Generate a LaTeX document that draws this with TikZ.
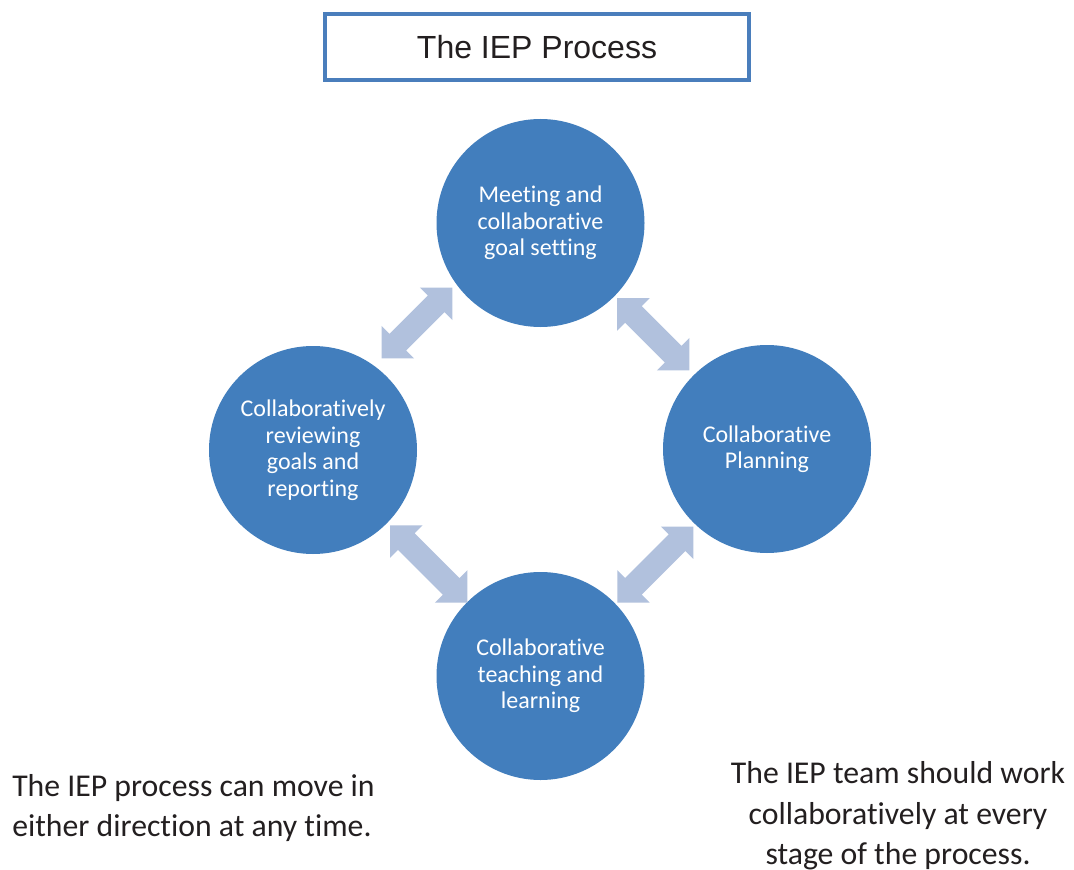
\documentclass[tikz,border=0pt]{standalone}
\usepackage{fontspec}
\setmainfont[Ligatures={NoCommon}]{Carlito}
\newfontfamily\arialfont{Liberation Sans}
\usetikzlibrary{shapes.arrows,calc}
\definecolor{circblue}{HTML}{427EBD}
\definecolor{arrowblue}{HTML}{B1C1DD}
\definecolor{boxblue}{HTML}{4A7EBC}
\definecolor{txt}{HTML}{231F20}
\begin{document}
\begin{tikzpicture}[x=0.75pt,y=-0.75pt,
  stage/.style={circle, fill=circblue, draw=none, minimum size=156pt, inner sep=0pt,
    text=white, align=center, font=\fontsize{18}{19.9}\selectfont},
  linkarrow/.style={double arrow, fill=arrowblue, draw=none, double arrow tip angle=90,
    double arrow head extend=8.4pt, inner xsep=0pt, inner ysep=8.6pt},
  note/.style={text=txt, font=\fontsize{23.8}{30.5}\selectfont, inner sep=0pt}]
\useasboundingbox (0,0) rectangle (1074,870);
\fill[white] (0,0) rectangle (1074,870);
% title
\node[draw=boxblue, line width=3pt, minimum width=318pt, minimum height=49.5pt,
  inner sep=0pt, text=txt, font=\arialfont\fontsize{24}{28}\selectfont] (title) at (537,47) {The IEP Process};
% stages
\node[stage] (top) at (540.5,223) {Meeting and\\collaborative\\goal setting};
\node[stage] (right) at (767,449) {Collaborative\\Planning};
\node[stage] (bottom) at (540.5,676) {Collaborative\\teaching and\\learning};
\node[stage] (left) at (313,450) {Collaboratively\\reviewing\\goals and\\reporting};
% double arrows
\node[linkarrow, minimum height=75pt, rotate=45] (a1) at ($(left)!0.5!(top)+(-9.75,-13.5)$) {};
\node[linkarrow, minimum height=76.5pt, rotate=-45] (a2) at ($(top)!0.5!(right)+(-0.5,-1.7)$) {};
\node[linkarrow, minimum height=82pt, rotate=-45] (a3) at ($(left)!0.5!(bottom)+(2,1)$) {};
\node[linkarrow, minimum height=80.6pt, rotate=45] (a4) at ($(bottom)!0.5!(right)+(1.5,2)$) {};
% notes
\node[note, anchor=west, align=left] (n1) at (12,808) {The IEP process can move in\\either direction at any time.};
\node[note, align=center] (n2) at (898,816) {The IEP team should work\\collaboratively at every\\stage of the process.};
\end{tikzpicture}
\end{document}
